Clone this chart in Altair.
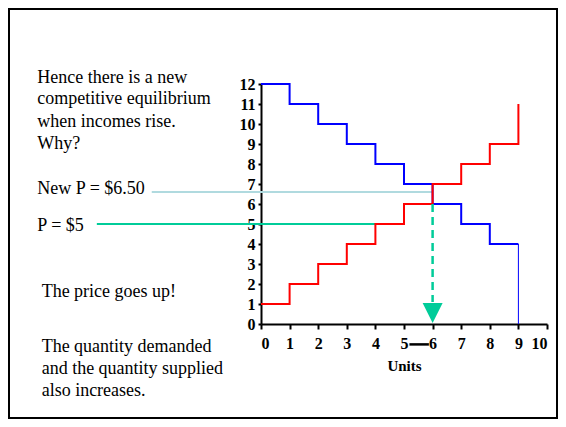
import altair as alt
import pandas as pd

# ---- data ----
units = [0, 1, 2, 3, 4, 5, 6, 7, 8, 9]
demand = [12, 11, 10, 9, 8, 7, 6, 5, 4, 4]
supply = [1, 2, 3, 4, 5, 6, 7, 8, 9, 11]
demand_drop = {"x": [9], "y": [0], "y2": [4]}

x_ticks = [0, 1, 2, 3, 4, 5, 6, 7, 8, 9, 10]
y_ticks = [0, 1, 2, 3, 4, 5, 6, 7, 8, 9, 10, 11, 12]

new_price = 6.6
old_price = 5
new_price_from = -3.82
old_price_from = -5.74
old_price_to = 4
new_qty = 6
arrow_top = 1.1

# dash joining the "5" and "6" tick labels
label_dash = {"x": [5.19], "x2": [5.87], "y": [-1.02]}

text_lines = [
    "Hence there is a new",
    "competitive equilibrium",
    "when incomes rise.",
    "Why?",
    "New P = $6.50",
    "P = $5",
    "The price goes up!",
    "The quantity demanded",
    "and the quantity supplied",
    "also increases.",
]
text_x = [-7.82, -7.82, -7.82, -7.82, -7.82, -7.82, -7.67, -7.67, -7.67, -7.67]
text_y = [12.07, 10.98, 9.86, 8.75, 6.48, 4.63, 1.35, -1.4, -2.5, -3.6]

SERIF = "Liberation Serif"
GREEN = "#00CC99"
LIGHTBLUE = "#B0DADF"

xscale = alt.Scale(domain=[0, 10], nice=False, zero=False)
yscale = alt.Scale(domain=[0, 12], nice=False, zero=False)
xaxis = alt.Axis(values=x_ticks, title="Units", labelAngle=0, grid=False,
                 tickSize=5, tickWidth=2, tickColor="black",
                 domainColor="black", domainWidth=2,
                 labelFont=SERIF, labelFontSize=16, labelFontWeight="bold",
                 labelColor="black", labelPadding=6,
                 titleFont=SERIF, titleFontSize=15, titleFontWeight="bold",
                 titleColor="black", titlePadding=7)
yaxis = alt.Axis(values=y_ticks, title=None, grid=False,
                 tickSize=3, tickWidth=2, tickColor="black",
                 domainColor="black", domainWidth=2,
                 labelFont=SERIF, labelFontSize=16, labelFontWeight="bold",
                 labelColor="black", labelPadding=3)


def X(f="x"):
    return alt.X(f"{f}:Q", scale=xscale, axis=xaxis)


def Y(f="y"):
    return alt.Y(f"{f}:Q", scale=yscale, axis=yaxis)


demand_df = pd.DataFrame({"x": units, "y": demand})
supply_df = pd.DataFrame({"x": units, "y": supply})

demand_line = alt.Chart(demand_df).mark_line(
    interpolate="step-after", color="#0000FF", strokeWidth=2
).encode(x=X(), y=Y())

supply_line = alt.Chart(supply_df).mark_line(
    interpolate="step-after", color="#FF0000", strokeWidth=2
).encode(x=X(), y=Y())

drop_rule = alt.Chart(pd.DataFrame(demand_drop)).mark_rule(
    color="#0000FF", strokeWidth=1
).encode(x=X(), y=Y(), y2="y2:Q")

price_df = pd.DataFrame({
    "x": [new_price_from, old_price_from],
    "x2": [new_qty, old_price_to],
    "y": [new_price, old_price],
    "c": [LIGHTBLUE, GREEN],
})
price_rules = alt.Chart(price_df).mark_rule(strokeWidth=2).encode(
    x=X(), x2="x2:Q", y=Y(), color=alt.Color("c:N", scale=None)
)

dash_df = pd.DataFrame({"x": [new_qty], "y": [new_price - 0.6], "y2": [arrow_top]})
dash_rule = alt.Chart(dash_df).mark_rule(
    color=GREEN, strokeWidth=2.5, strokeDash=[8, 5]
).encode(x=X(), y=Y(), y2="y2:Q")

arrow_df = pd.DataFrame({"x": [new_qty], "y": [arrow_top / 2]})
arrow = alt.Chart(arrow_df).mark_point(
    shape="M-1,-1L1,-1L0,1Z", size=400, filled=True, color=GREEN, opacity=1
).encode(x=X(), y=Y())

text_df = pd.DataFrame({"x": text_x, "y": text_y, "t": text_lines})
texts = alt.Chart(text_df).mark_text(
    align="left", baseline="alphabetic", font=SERIF, fontSize=18, color="black"
).encode(x=X(), y=Y(), text="t:N")

dash_lbl = alt.Chart(pd.DataFrame(label_dash)).mark_rule(
    color="black", strokeWidth=2.5
).encode(x=X(), x2="x2:Q", y=Y())

frame = alt.Chart(pd.DataFrame({"a": [0]})).mark_rect(
    fill=None, stroke="black", strokeWidth=2
).encode(x=alt.value(-252), x2=alt.value(296), y=alt.value(-75), y2=alt.value(334))

chart = alt.layer(
    frame, price_rules, demand_line, supply_line, drop_rule, dash_rule, arrow,
    texts, dash_lbl
).properties(
    width=286, height=240,
    autosize=alt.AutoSizeParams(type="none"),
    padding={"left": 253, "top": 76, "right": 11, "bottom": 95},
).configure_view(stroke=None)

chart.save("out.html", embed_options={"renderer": "svg", "actions": False})
